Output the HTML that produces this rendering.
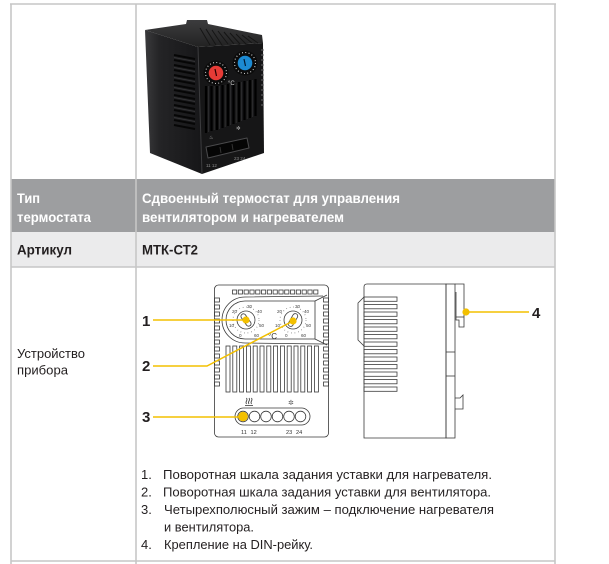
<!DOCTYPE html>
<html><head><meta charset="utf-8"><style>
html,body{margin:0;padding:0;background:#fff;}
svg{display:block;}
text{font-family:"Liberation Sans Narrow","Liberation Sans",sans-serif;}
</style></head><body>
<svg width="609" height="564" viewBox="0 0 609 564" xmlns="http://www.w3.org/2000/svg">
<rect width="609" height="564" fill="#fff"/>
<!-- row fills -->
<rect x="11" y="179" width="544" height="53" fill="#9d9ea0"/>
<rect x="11" y="232" width="544" height="35" fill="#ebebec"/>
<!-- grid -->
<g stroke="#c6c6c6" stroke-width="1.6" fill="none">
<line x1="10" y1="4" x2="556" y2="4"/>
<line x1="11" y1="4" x2="11" y2="564"/>
<line x1="555" y1="4" x2="555" y2="564"/>
<line x1="136" y1="4" x2="136" y2="564"/>
<line x1="11" y1="267" x2="555" y2="267"/>
<line x1="11" y1="561" x2="555" y2="561"/>
</g>

<!-- header texts -->
<g fill="#fff" font-weight="bold" font-size="13.5">
<text x="17" y="203" textLength="23" lengthAdjust="spacingAndGlyphs">Тип</text>
<text x="17" y="222" textLength="74" lengthAdjust="spacingAndGlyphs">термостата</text>
<text x="142" y="203" textLength="258" lengthAdjust="spacingAndGlyphs">Сдвоенный термостат для управления</text>
<text x="142" y="222" textLength="202" lengthAdjust="spacingAndGlyphs">вентилятором и нагревателем</text>
</g>
<g fill="#231f20" font-weight="bold" font-size="13.5">
<text x="17" y="254.5" textLength="55" lengthAdjust="spacingAndGlyphs">Артикул</text>
<text x="142" y="254.5" textLength="56" lengthAdjust="spacingAndGlyphs">МТК-СТ2</text>
</g>
<g fill="#231f20" font-size="13">
<text x="17" y="358" textLength="68" lengthAdjust="spacingAndGlyphs">Устройство</text>
<text x="17" y="374.5" textLength="51" lengthAdjust="spacingAndGlyphs">прибора</text>
</g>

<!-- list -->
<g fill="#231f20" font-size="13">
<text x="141" y="479">1.</text>
<text x="163" y="479" textLength="329" lengthAdjust="spacingAndGlyphs">Поворотная шкала задания уставки для нагревателя.</text>
<text x="141" y="496.5">2.</text>
<text x="163" y="496.5" textLength="328" lengthAdjust="spacingAndGlyphs">Поворотная шкала задания уставки для вентилятора.</text>
<text x="141" y="514">3.</text>
<text x="164" y="514" textLength="330" lengthAdjust="spacingAndGlyphs">Четырехполюсный зажим – подключение нагревателя</text>
<text x="164" y="531.5" textLength="90" lengthAdjust="spacingAndGlyphs">и вентилятора.</text>
<text x="141" y="549">4.</text>
<text x="164" y="549" textLength="149" lengthAdjust="spacingAndGlyphs">Крепление на DIN-рейку.</text>
</g>

<!-- ===== PHOTO ===== -->
<defs>
<linearGradient id="lf" x1="0" y1="0" x2="1" y2="0">
<stop offset="0" stop-color="#3a3a3c"/><stop offset="0.25" stop-color="#242426"/><stop offset="1" stop-color="#161618"/>
</linearGradient>
<linearGradient id="tf" x1="0" y1="0" x2="0" y2="1">
<stop offset="0" stop-color="#3c3c3e"/><stop offset="1" stop-color="#222"/>
</linearGradient>
</defs>
<!-- left face -->
<polygon points="145,30 198,47 202,174 150,153" fill="url(#lf)"/>
<!-- top face -->
<polygon points="145,30 186,24 187,20 207,20 208,24 262,35 263,43 198,47" fill="url(#tf)"/>
<g stroke="#151515" stroke-width="1">
<line x1="200" y1="28" x2="210" y2="45"/><line x1="206" y1="29" x2="216" y2="45"/><line x1="212" y1="30" x2="222" y2="45"/>
<line x1="218" y1="31" x2="228" y2="44"/><line x1="224" y1="32" x2="234" y2="44"/><line x1="230" y1="33" x2="240" y2="44"/>
<line x1="236" y1="34" x2="246" y2="44"/><line x1="242" y1="35" x2="252" y2="43"/><line x1="248" y1="36" x2="258" y2="43"/>
</g>
<!-- front face -->
<polygon points="198,47 263,43 264,153 202,174" fill="#161617"/>
<line x1="198" y1="47" x2="202" y2="174" stroke="#3d3d3f" stroke-width="1"/>
<!-- left face slots -->
<g stroke="#060606" stroke-width="2">
<line x1="174" y1="55" x2="195" y2="59"/><line x1="174" y1="60" x2="195" y2="64"/><line x1="174" y1="65" x2="195" y2="69"/>
<line x1="174" y1="70" x2="195" y2="74"/><line x1="174" y1="75" x2="195" y2="79"/><line x1="174" y1="80" x2="195" y2="84"/>
<line x1="174" y1="85" x2="195" y2="89"/><line x1="174" y1="90" x2="195" y2="94"/><line x1="174" y1="95" x2="195" y2="99"/>
<line x1="174" y1="100" x2="195" y2="104"/><line x1="174" y1="105" x2="195" y2="109"/><line x1="174" y1="110" x2="195" y2="114"/>
<line x1="174" y1="115" x2="195" y2="119"/><line x1="174" y1="120" x2="195" y2="124"/><line x1="174" y1="125" x2="195" y2="129"/>
</g>
<g stroke="#3a3a3c" stroke-width="0.8">
<line x1="174" y1="57.5" x2="195" y2="61.5"/><line x1="174" y1="67.5" x2="195" y2="71.5"/><line x1="174" y1="77.5" x2="195" y2="81.5"/>
<line x1="174" y1="87.5" x2="195" y2="91.5"/><line x1="174" y1="97.5" x2="195" y2="101.5"/><line x1="174" y1="107.5" x2="195" y2="111.5"/>
<line x1="174" y1="117.5" x2="195" y2="121.5"/>
</g>
<!-- front slots -->
<g stroke="#000" stroke-width="2.2">
<line x1="206" y1="86" x2="206" y2="133"/><line x1="211.5" y1="86" x2="211.5" y2="131"/><line x1="217" y1="86" x2="217" y2="130"/>
<line x1="222.5" y1="85" x2="222.5" y2="128"/><line x1="228" y1="84" x2="228" y2="126"/><line x1="233.5" y1="83" x2="233.5" y2="124"/>
<line x1="239" y1="82" x2="239" y2="122"/><line x1="244.5" y1="81" x2="244.5" y2="120"/><line x1="250" y1="80" x2="250" y2="118"/>
<line x1="255.5" y1="79" x2="255.5" y2="116"/>
</g>
<g stroke="#333335" stroke-width="0.8">
<line x1="208.7" y1="86" x2="208.7" y2="132"/><line x1="214.2" y1="86" x2="214.2" y2="130"/><line x1="219.7" y1="86" x2="219.7" y2="129"/>
<line x1="225.2" y1="85" x2="225.2" y2="127"/><line x1="230.7" y1="84" x2="230.7" y2="125"/><line x1="236.2" y1="83" x2="236.2" y2="123"/>
<line x1="241.7" y1="82" x2="241.7" y2="121"/><line x1="247.2" y1="81" x2="247.2" y2="119"/><line x1="252.7" y1="80" x2="252.7" y2="117"/>
</g>
<!-- right edge comb -->
<g stroke="#6a6a6c" stroke-width="1">
<line x1="261" y1="50" x2="264" y2="50"/><line x1="261" y1="55" x2="264" y2="55"/><line x1="261" y1="60" x2="264" y2="60"/>
<line x1="261" y1="65" x2="264" y2="65"/><line x1="261" y1="70" x2="264" y2="70"/><line x1="261" y1="75" x2="264" y2="75"/>
<line x1="261" y1="80" x2="264" y2="80"/><line x1="261" y1="85" x2="264" y2="85"/><line x1="261" y1="90" x2="264" y2="90"/>
<line x1="261" y1="95" x2="264" y2="95"/><line x1="261" y1="100" x2="264" y2="100"/><line x1="261" y1="105" x2="264" y2="105"/>
</g>
<!-- dials -->
<circle cx="216" cy="73" r="12.5" fill="#0b0b0b"/>
<circle cx="216" cy="73" r="10.5" fill="none" stroke="#ddd" stroke-width="1.1" stroke-dasharray="0.9 2.4"/>
<circle cx="216" cy="73" r="7.3" fill="#e63b36"/>
<line x1="215" y1="69" x2="216.5" y2="76" stroke="#2a0000" stroke-width="1.2"/>
<circle cx="245" cy="63" r="12.5" fill="#0b0b0b"/>
<circle cx="245" cy="63" r="10.5" fill="none" stroke="#ddd" stroke-width="1.1" stroke-dasharray="0.9 2.4"/>
<circle cx="245" cy="63" r="7.3" fill="#1c8ad2"/>
<line x1="244" y1="59" x2="245.5" y2="66" stroke="#001a33" stroke-width="1.2"/>
<text x="228" y="85" font-size="6" fill="#cfcfcf">°C</text>
<!-- terminal slot -->
<polygon points="206,147 247,138 249,148 208,158" fill="#050505" stroke="#4a4a4c" stroke-width="1" stroke-linejoin="round"/>
<line x1="220" y1="147" x2="221" y2="153" stroke="#333" stroke-width="1"/>
<line x1="232" y1="144" x2="233" y2="150" stroke="#333" stroke-width="1"/>
<text x="209" y="139" font-size="5" fill="#aaa">♨</text>
<text x="236" y="130" font-size="5.5" fill="#bbb">✲</text>
<text x="206" y="167" font-size="4.5" fill="#8a8a8a">11 12</text>
<text x="234" y="160" font-size="4.5" fill="#8a8a8a">23 24</text>

<!-- ===== FRONT VIEW DRAWING ===== -->
<g stroke="#3a3a3a" stroke-width="0.8" fill="none">
<rect x="214.5" y="285" width="114" height="152" rx="4"/>
<!-- top squares -->
<rect x="232.5" y="290" width="4.2" height="4"/><rect x="238.3" y="290" width="4.2" height="4"/><rect x="244.1" y="290" width="4.2" height="4"/>
<rect x="249.9" y="290" width="4.2" height="4"/><rect x="255.7" y="290" width="4.2" height="4"/><rect x="261.5" y="290" width="4.2" height="4"/>
<rect x="267.3" y="290" width="4.2" height="4"/><rect x="273.1" y="290" width="4.2" height="4"/><rect x="278.9" y="290" width="4.2" height="4"/>
<rect x="284.7" y="290" width="4.2" height="4"/><rect x="290.5" y="290" width="4.2" height="4"/><rect x="296.3" y="290" width="4.2" height="4"/>
<rect x="302.1" y="290" width="4.2" height="4"/><rect x="307.9" y="290" width="4.2" height="4"/><rect x="313.7" y="290" width="4.2" height="4"/>
<!-- left column -->
<rect x="214.5" y="298" width="5" height="4"/><rect x="214.5" y="305" width="5" height="4"/><rect x="214.5" y="312" width="5" height="4"/>
<rect x="214.5" y="319" width="5" height="4"/><rect x="214.5" y="326" width="5" height="4"/><rect x="214.5" y="333" width="5" height="4"/>
<rect x="214.5" y="340" width="5" height="4"/><rect x="214.5" y="347" width="5" height="4"/><rect x="214.5" y="354" width="5" height="4"/>
<rect x="214.5" y="361" width="5" height="4"/><rect x="214.5" y="368" width="5" height="4"/><rect x="214.5" y="375" width="5" height="4"/>
<rect x="214.5" y="382" width="5" height="4"/>
<!-- right column -->
<rect x="323.5" y="298" width="5" height="4"/><rect x="323.5" y="305" width="5" height="4"/><rect x="323.5" y="312" width="5" height="4"/>
<rect x="323.5" y="319" width="5" height="4"/><rect x="323.5" y="326" width="5" height="4"/><rect x="323.5" y="333" width="5" height="4"/>
<rect x="323.5" y="340" width="5" height="4"/><rect x="323.5" y="347" width="5" height="4"/><rect x="323.5" y="354" width="5" height="4"/>
<rect x="323.5" y="361" width="5" height="4"/><rect x="323.5" y="368" width="5" height="4"/><rect x="323.5" y="375" width="5" height="4"/>
<rect x="323.5" y="382" width="5" height="4"/>
<!-- dial panel -->
<path d="M323,296 L245,297 A23,23 0 0 0 245,343 L323,344"/>
<path d="M315,301 L245,301 A19,19 0 0 0 245,339 L315,339 Z"/>
<line x1="315" y1="301" x2="327" y2="295"/>
<line x1="315" y1="339" x2="327" y2="345"/>
<!-- slots -->
<rect x="226" y="346" width="4" height="46"/><rect x="232.8" y="346" width="4" height="46"/><rect x="239.6" y="346" width="4" height="46"/>
<rect x="246.4" y="346" width="4" height="46"/><rect x="253.2" y="346" width="4" height="46"/><rect x="260" y="346" width="4" height="46"/>
<rect x="266.8" y="346" width="4" height="46"/><rect x="273.6" y="346" width="4" height="46"/><rect x="280.4" y="346" width="4" height="46"/>
<rect x="287.2" y="346" width="4" height="46"/><rect x="294" y="346" width="4" height="46"/><rect x="300.8" y="346" width="4" height="46"/>
<rect x="307.6" y="346" width="4" height="46"/><rect x="314.4" y="346" width="4" height="46"/>
<!-- dials -->
<circle cx="246" cy="320" r="9"/>
<circle cx="293" cy="320" r="9"/>
<rect x="243.5" y="313" width="5" height="14" rx="2.5" transform="rotate(-35 246 320)"/>
<rect x="290.5" y="313" width="5" height="14" rx="2.5" transform="rotate(30 293 320)"/>
<!-- terminal -->
<rect x="235" y="408" width="75" height="17" rx="8.5"/>
<circle cx="243" cy="416.5" r="5.3"/><circle cx="254.5" cy="416.5" r="5.3"/><circle cx="266" cy="416.5" r="5.3"/>
<circle cx="277.5" cy="416.5" r="5.3"/><circle cx="289" cy="416.5" r="5.3"/><circle cx="300.5" cy="416.5" r="5.3"/>
<!-- heater symbol -->
<path d="M246.5,398 q1,1.5 0,3 q-1,1.5 0,3 M249,398 q1,1.5 0,3 q-1,1.5 0,3 M251.5,398 q1,1.5 0,3 q-1,1.5 0,3"/>
<line x1="245" y1="405.5" x2="253" y2="405.5"/>
</g>
<!-- dial dots -->
<g fill="none" stroke="#555" stroke-width="0.9" stroke-dasharray="0.6 3">
<circle cx="246" cy="320" r="13"/><circle cx="293" cy="320" r="13"/>
</g>
<g fill="#444" font-size="4.6" font-family="Liberation Sans, sans-serif">
<text x="247" y="308">30</text><text x="232" y="313">20</text><text x="257" y="313">40</text>
<text x="229" y="327">10</text><text x="259" y="327">50</text><text x="239" y="337">0</text><text x="254" y="337">60</text>
<text x="295" y="308">30</text><text x="277" y="313">20</text><text x="304" y="313">40</text>
<text x="275" y="327">10</text><text x="306" y="327">50</text><text x="285" y="337">0</text><text x="301" y="337">60</text>
</g>
<text x="268" y="339" font-size="8" fill="#333" font-family="Liberation Sans, sans-serif">°C</text>
<text x="288" y="405" font-size="7" fill="#555">✲</text>
<g fill="#333" font-size="5.6" font-family="Liberation Sans, sans-serif">
<text x="241" y="434">11</text><text x="250.5" y="434">12</text>
<text x="286" y="434">23</text><text x="296" y="434">24</text>
</g>

<!-- ===== SIDE VIEW DRAWING ===== -->
<g stroke="#3a3a3a" stroke-width="0.8" fill="none">
<path d="M367,284 L446,284 L446,438 L364,438 L364,287 Q364,284 367,284 Z"/>
<path d="M364,297 L358,303 L358,340 L364,346"/>
<rect x="446" y="284" width="9" height="154"/>
<line x1="446" y1="352" x2="455" y2="352"/>
<line x1="446" y1="376" x2="455" y2="376"/>
<path d="M455,284 L464,284 L464,327 L459,327 L459,320 L456,320 L456,292"/>
<line x1="456" y1="317" x2="464" y2="317"/>
<path d="M455,398 L460,398 L463,395 L463,409 L455,409"/>
<rect x="364" y="297" width="33" height="4.3"/><rect x="364" y="304.5" width="33" height="4.3"/><rect x="364" y="312" width="33" height="4.3"/>
<rect x="364" y="319.5" width="33" height="4.3"/><rect x="364" y="327" width="33" height="4.3"/><rect x="364" y="334.5" width="33" height="4.3"/>
<rect x="364" y="342" width="33" height="4.3"/><rect x="364" y="349.5" width="33" height="4.3"/><rect x="364" y="357" width="33" height="4.3"/>
<rect x="364" y="364.5" width="33" height="4.3"/><rect x="364" y="372" width="33" height="4.3"/><rect x="364" y="379.5" width="33" height="4.3"/>
<rect x="364" y="387" width="33" height="4.3"/>
</g>

<!-- ===== LEADERS ===== -->
<g stroke="#f3c000" stroke-width="1.5" fill="none">
<line x1="153" y1="320" x2="246" y2="320"/>
<polyline points="153,366 207,366 293,321"/>
<line x1="153" y1="417" x2="243" y2="417"/>
<line x1="466" y1="312" x2="529" y2="312"/>
</g>
<g fill="#f3c000">
<circle cx="246" cy="320" r="3.6"/>
<circle cx="293" cy="321" r="3.6"/>
<circle cx="243" cy="416.5" r="4.8"/>
<circle cx="466" cy="312" r="3.6"/>
</g>
<g fill="#231f20" font-weight="bold" font-size="15">
<text x="142" y="326">1</text>
<text x="142" y="371">2</text>
<text x="142" y="422">3</text>
<text x="532" y="318">4</text>
</g>
</svg>
</body></html>
